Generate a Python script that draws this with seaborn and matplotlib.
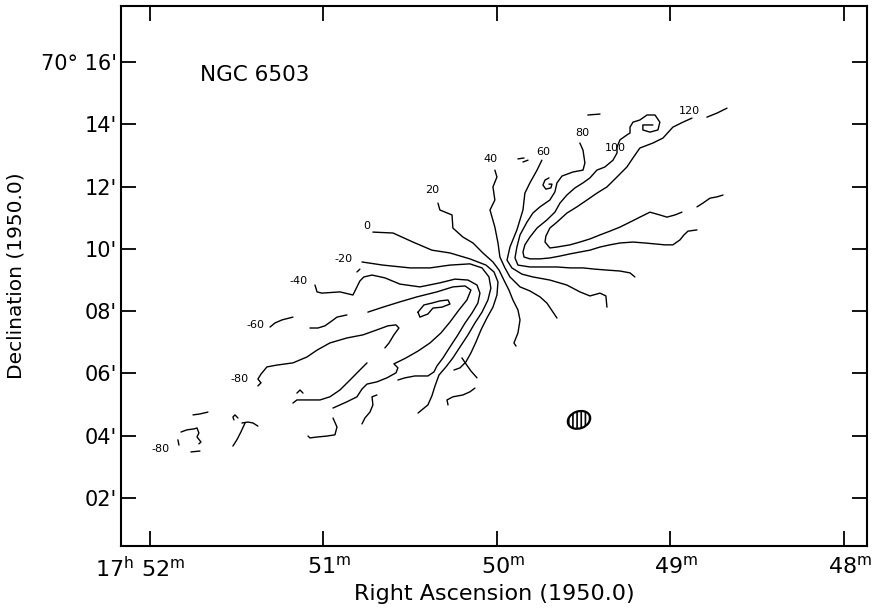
import matplotlib
matplotlib.use("Agg")
import matplotlib.pyplot as plt
import seaborn as sns
from matplotlib.patches import Ellipse
from matplotlib.transforms import ScaledTranslation

# ---------------- data: RA in minutes of time (17h + m), Dec in arcmin (70deg + ') ----------------
ra_v120 = [48.876, 48.928, 48.986, 49.043, 49.101, 49.176, 49.216, 49.251, 49.308, 49.366, 49.424,
           49.481, 49.539, 49.597, 49.654, 49.695, 49.718, 49.723, 49.695, 49.654, 49.579, 49.522,
           49.464, 49.406, 49.349, 49.291, 49.233, 49.176, 49.118, 49.061, 49.020, 48.974, 48.934]
dec_v120 = [14.20, 14.07, 13.91, 13.56, 13.40, 13.24, 12.92, 12.63, 12.31, 11.99, 11.79,
            11.57, 11.35, 11.15, 10.86, 10.67, 10.41, 10.22, 10.03, 10.06, 10.13, 10.22,
            10.32, 10.45, 10.57, 10.70, 10.86, 11.02, 11.18, 11.09, 11.02, 11.09, 11.18]
ra_v120_b = [48.790, 48.732, 48.674]
dec_v120_b = [14.23, 14.36, 14.52]
ra_v120_c = [48.847, 48.813, 48.772, 48.732, 48.697]
dec_v120_c = [11.35, 11.47, 11.63, 11.67, 11.73]

ra_v100 = [49.101, 49.159, 49.159, 49.118, 49.072, 49.061, 49.089, 49.135, 49.176, 49.216, 49.233,
           49.233, 49.251, 49.291, 49.308, 49.308, 49.331, 49.378, 49.424, 49.464, 49.504, 49.550,
           49.597, 49.637, 49.666, 49.712, 49.769, 49.810, 49.839, 49.850, 49.844, 49.810, 49.752,
           49.695, 49.637, 49.579, 49.522, 49.464, 49.406, 49.349, 49.291, 49.216, 49.147, 49.089,
           49.032, 48.986, 48.945, 48.922, 48.899, 48.847]
dec_v100 = [13.98, 13.98, 13.82, 13.75, 13.82, 14.07, 14.30, 14.30, 14.14, 14.07, 13.91,
            13.72, 13.66, 13.50, 13.27, 13.08, 12.85, 12.63, 12.53, 12.28, 12.12, 11.96,
            11.73, 11.47, 11.18, 10.93, 10.67, 10.38, 10.13, 9.90, 9.74, 9.68, 9.68,
            9.71, 9.77, 9.84, 9.90, 9.96, 10.06, 10.13, 10.19, 10.22, 10.19, 10.16,
            10.13, 10.13, 10.29, 10.45, 10.57, 10.61]

ra_v80 = [49.522, 49.504, 49.493, 49.504, 49.562, 49.625, 49.654, 49.666, 49.695, 49.752, 49.793,
          49.827, 49.867, 49.885, 49.896, 49.879, 49.810, 49.723, 49.654, 49.579, 49.504, 49.435,
          49.366, 49.291, 49.233, 49.205]
dec_v80 = [13.40, 13.17, 12.76, 12.53, 12.47, 12.34, 12.12, 11.83, 11.57, 11.35, 11.15,
           10.86, 10.45, 10.06, 9.71, 9.48, 9.42, 9.42, 9.42, 9.39, 9.39, 9.35,
           9.32, 9.29, 9.23, 9.10]

ra_v60 = [49.741, 49.769, 49.810, 49.839, 49.850, 49.885, 49.925, 49.942, 49.914, 49.856, 49.793,
          49.695, 49.597, 49.522, 49.464, 49.406, 49.372, 49.366]
dec_v60 = [12.85, 12.53, 12.12, 11.79, 11.25, 10.61, 10.06, 9.64, 9.39, 9.19, 9.10,
           9.00, 8.84, 8.62, 8.49, 8.58, 8.49, 8.13]

ra_v40 = [50.012, 50.000, 50.023, 50.012, 50.040, 50.012, 49.994, 49.983, 49.954, 49.925, 49.867,
          49.810, 49.752, 49.712, 49.677, 49.654]
dec_v40 = [12.53, 12.31, 11.99, 11.57, 11.25, 10.70, 10.19, 9.74, 9.39, 9.10, 8.78,
           8.65, 8.46, 8.26, 7.97, 7.78]

ra_v20 = [50.340, 50.329, 50.259, 50.254, 50.196, 50.138, 50.081, 50.023, 49.988, 49.960, 49.931,
          49.908, 49.879, 49.867, 49.879, 49.902, 49.890]
dec_v20 = [11.47, 11.25, 11.09, 10.67, 10.38, 10.19, 9.87, 9.58, 9.32, 9.00, 8.68,
           8.36, 8.04, 7.72, 7.30, 6.98, 6.88]

ra_v0 = [50.715, 50.599, 50.484, 50.375, 50.271, 50.156, 50.063, 50.017, 49.994, 50.000, 50.023,
         50.058, 50.092, 50.121, 50.150, 50.179, 50.213, 50.248]
dec_v0 = [10.54, 10.51, 10.22, 9.96, 9.87, 9.68, 9.48, 9.26, 8.94, 8.52, 8.13,
          7.78, 7.40, 7.01, 6.66, 6.37, 6.18, 6.11]
ra_v0_x = [50.202, 50.179, 50.150, 50.115]
dec_v0_x = [6.50, 6.31, 6.08, 5.86]

ra_vm20 = [50.778, 50.657, 50.501, 50.386, 50.271, 50.156, 50.086, 50.046, 50.035, 50.052, 50.086,
           50.127, 50.167, 50.213, 50.254, 50.294, 50.334, 50.357, 50.375, 50.398, 50.455]
dec_vm20 = [9.58, 9.48, 9.39, 9.39, 9.48, 9.52, 9.39, 9.10, 8.74, 8.36, 7.97,
            7.62, 7.24, 6.85, 6.50, 6.21, 5.95, 5.60, 5.28, 4.99, 4.73]

ra_vm40 = [51.049, 51.037, 51.009, 50.905, 50.830, 50.807, 50.790, 50.767, 50.720, 50.646, 50.559,
           50.444, 50.329, 50.242, 50.167, 50.115, 50.098, 50.110, 50.144, 50.184, 50.225, 50.271,
           50.311, 50.346, 50.363, 50.398, 50.473, 50.530, 50.571]
dec_vm40 = [8.84, 8.62, 8.58, 8.62, 8.52, 8.78, 8.97, 9.10, 9.16, 9.07, 8.87,
            8.78, 8.91, 9.03, 9.00, 8.84, 8.58, 8.26, 7.94, 7.62, 7.24, 6.85,
            6.50, 6.24, 6.05, 5.92, 5.92, 5.86, 5.79]
ra_vm40_b = [50.807, 50.790]
dec_vm40_b = [9.26, 9.35]

ra_vm60 = [50.744, 50.657, 50.559, 50.461, 50.346, 50.254, 50.184, 50.150, 50.173, 50.219, 50.271,
           50.323, 50.386, 50.455, 50.524, 50.571, 50.594, 50.571, 50.582, 50.634, 50.692, 50.749,
           50.778, 50.807, 50.865, 50.945]
dec_vm60 = [7.97, 8.13, 8.30, 8.46, 8.62, 8.78, 8.81, 8.68, 8.36, 8.04, 7.65,
            7.30, 6.98, 6.72, 6.50, 6.37, 6.31, 6.18, 6.02, 5.86, 5.73, 5.66,
            5.50, 5.25, 5.09, 4.89]
ra_vm60_a = [51.308, 51.280, 51.239, 51.176]
dec_vm60_a = [7.49, 7.62, 7.72, 7.81]
ra_vm60_b = [51.078, 51.032, 50.991, 50.951, 50.922, 50.865]
dec_vm60_b = [7.46, 7.46, 7.53, 7.69, 7.81, 7.88]

ra_island = [50.455, 50.421, 50.375, 50.329, 50.282, 50.271, 50.317, 50.369, 50.398, 50.444, 50.455]
dec_island = [7.97, 8.20, 8.26, 8.33, 8.36, 8.23, 8.13, 8.10, 7.91, 7.81, 7.97]

ra_vm80 = [51.378, 51.360, 51.378, 51.360, 51.326, 51.268, 51.176, 51.095, 51.037, 50.963, 50.865,
           50.772, 50.692, 50.628, 50.582, 50.565, 50.594, 50.622, 50.646]
dec_vm80 = [5.60, 5.70, 5.82, 5.98, 6.21, 6.27, 6.34, 6.53, 6.75, 6.98, 7.14,
            7.24, 7.40, 7.53, 7.56, 7.46, 7.24, 6.98, 6.82]
ra_vm80_b = [50.749, 50.801, 50.847, 50.905, 50.963, 51.020, 51.095, 51.153, 51.176]
dec_vm80_b = [6.34, 6.05, 5.79, 5.47, 5.25, 5.15, 5.15, 5.15, 5.05]
ra_vm80_c = [51.153, 51.135, 51.118]
dec_vm80_c = [5.37, 5.47, 5.37]

# fragments in the outer, noisy parts of the map
ra_frag1 = [50.692, 50.720, 50.715, 50.732, 50.761, 50.778]
dec_frag1 = [5.31, 5.25, 4.99, 4.76, 4.57, 4.38]
ra_frag2 = [50.945, 50.922, 50.934, 50.980, 51.037, 51.078, 51.089]
dec_frag2 = [4.57, 4.28, 4.03, 3.99, 3.96, 3.93, 3.99]
ra_frag3 = [50.282, 50.288, 50.254, 50.196, 50.156, 50.127]
dec_frag3 = [4.99, 5.15, 5.25, 5.31, 5.41, 5.53]
ra_frag4 = [51.493, 51.510, 51.522, 51.516]
dec_frag4 = [4.57, 4.67, 4.60, 4.51]
ra_frag5 = [51.470, 51.435, 51.406, 51.378]
dec_frag5 = [4.41, 4.44, 4.41, 4.31]
ra_frag6 = [51.452, 51.476, 51.499, 51.522]
dec_frag6 = [4.41, 4.12, 3.87, 3.67]
ra_frag7 = [51.752, 51.712, 51.666]
dec_frag7 = [4.67, 4.70, 4.76]
ra_frag8 = [51.821, 51.787, 51.746, 51.729, 51.718, 51.729, 51.706, 51.718]
dec_frag8 = [4.12, 4.19, 4.22, 4.25, 4.09, 3.96, 3.80, 3.74]
ra_frag9 = [51.764, 51.712]
dec_frag9 = [3.48, 3.51]
ra_frag10 = [51.839, 51.833]
dec_frag10 = [3.87, 3.70]
ra_frag11 = [49.700, 49.723, 49.735, 49.718, 49.689, 49.683, 49.700]
dec_frag11 = [12.28, 12.21, 12.05, 11.92, 11.96, 12.08, 12.08]
ra_frag12 = [49.879, 49.844]
dec_frag12 = [12.89, 12.92]
ra_frag13 = [49.850, 49.821]
dec_frag13 = [12.79, 12.85]
ra_frag14 = [49.476, 49.406]
dec_frag14 = [14.30, 14.33]

# contour labels
contour_labels = ["120", "100", "80", "60", "40", "20", "0", "-20", "-40", "-60", "-80", "-80"]
label_ra = [48.888, 49.320, 49.510, 49.735, 50.040, 50.375, 50.749, 50.882, 51.141, 51.390, 51.481, 51.937]
label_dec = [14.43, 13.24, 13.72, 13.11, 12.89, 11.89, 10.74, 9.68, 8.97, 7.56, 5.82, 3.58]

# axes ticks
ra_ticks = [52, 51, 50, 49, 48]
ra_ticklabels = [r"17$^{\rm h}$ 52$^{\rm m}$", r"51$^{\rm m}$", r"50$^{\rm m}$", r"49$^{\rm m}$", r"48$^{\rm m}$"]
dec_ticks = [2, 4, 6, 8, 10, 12, 14, 16]
dec_ticklabels = ["02'", "04'", "06'", "08'", "10'", "12'", "14'", "70\u00b0 16'"]

# synthesized beam
beam_ra, beam_dec = 49.527, 4.51

# ---------------- plotting ----------------
sns.set_style("ticks")
plt.rcParams["font.family"] = ["DejaVu Sans"]
plt.rcParams["mathtext.fontset"] = "dejavusans"
plt.rcParams["mathtext.default"] = "regular"
plt.rcParams["hatch.linewidth"] = 1.2
plt.rcParams["text.color"] = "black"
plt.rcParams["axes.labelcolor"] = "black"
plt.rcParams["xtick.color"] = "black"
plt.rcParams["ytick.color"] = "black"
plt.rcParams["axes.edgecolor"] = "black"

fig = plt.figure(figsize=(8.76, 6.15), dpi=100)
ax = fig.add_axes([121 / 876, 1 - 546 / 615, (867 - 121) / 876, (546 - 6) / 615])

strokes = [
    (ra_v120, dec_v120), (ra_v120_b, dec_v120_b), (ra_v120_c, dec_v120_c),
    (ra_v100, dec_v100), (ra_v80, dec_v80), (ra_v60, dec_v60), (ra_v40, dec_v40),
    (ra_v20, dec_v20), (ra_v0, dec_v0), (ra_v0_x, dec_v0_x),
    (ra_vm20, dec_vm20), (ra_vm40, dec_vm40), (ra_vm40_b, dec_vm40_b),
    (ra_vm60, dec_vm60), (ra_vm60_a, dec_vm60_a), (ra_vm60_b, dec_vm60_b),
    (ra_island, dec_island), (ra_vm80, dec_vm80), (ra_vm80_b, dec_vm80_b), (ra_vm80_c, dec_vm80_c),
    (ra_frag1, dec_frag1), (ra_frag2, dec_frag2), (ra_frag3, dec_frag3), (ra_frag4, dec_frag4),
    (ra_frag5, dec_frag5), (ra_frag6, dec_frag6), (ra_frag7, dec_frag7), (ra_frag8, dec_frag8),
    (ra_frag9, dec_frag9), (ra_frag10, dec_frag10), (ra_frag11, dec_frag11), (ra_frag12, dec_frag12),
    (ra_frag13, dec_frag13), (ra_frag14, dec_frag14),
]
for ra, dec in strokes:
    sns.lineplot(x=ra, y=dec, sort=False, estimator=None, color="black",
                 linewidth=1.0, ax=ax, legend=False)

for lab, x, y in zip(contour_labels, label_ra, label_dec):
    ax.text(x, y, lab, fontsize=8, ha="center", va="center", color="black")

ax.text(51.712, 15.58, "NGC 6503", fontsize=15.5, ha="left", va="center", color="black")

# beam ellipse (fixed size on the page, placed at its data position)
beam_trans = fig.dpi_scale_trans + ScaledTranslation(beam_ra, beam_dec, ax.transData)
ax.add_patch(Ellipse((0, 0), 0.23, 0.17, angle=20, transform=beam_trans,
                     facecolor="white", edgecolor="black", linewidth=1.6, hatch="||||"))

ax.set_xlim(52.167, 47.867)
ax.set_ylim(0.46, 17.80)
ax.set_xticks(ra_ticks)
ax.set_xticklabels(ra_ticklabels)
ax.set_yticks(dec_ticks)
ax.set_yticklabels(dec_ticklabels)
ax.tick_params(direction="in", length=11, width=1.3, top=True, right=True,
               colors="black", labelcolor="black")
ax.tick_params(axis="x", labelsize=16, pad=7)
ax.tick_params(axis="y", labelsize=15, pad=3)
for i, lbl in enumerate(ax.get_xticklabels()):
    dx = -0.10 if i == 0 else 0.06
    lbl.set_transform(lbl.get_transform() + ScaledTranslation(dx, 0, fig.dpi_scale_trans))
for sp in ax.spines.values():
    sp.set_linewidth(1.5)
    sp.set_color("black")

ax.set_xlabel("Right Ascension (1950.0)", fontsize=16, labelpad=2, color="black")
ax.set_ylabel("Declination (1950.0)", fontsize=14.5, color="black")
ax.yaxis.set_label_coords((26 - 121) / 746, 0.5)
ax.grid(False)

fig.savefig("out.png", dpi=100)
